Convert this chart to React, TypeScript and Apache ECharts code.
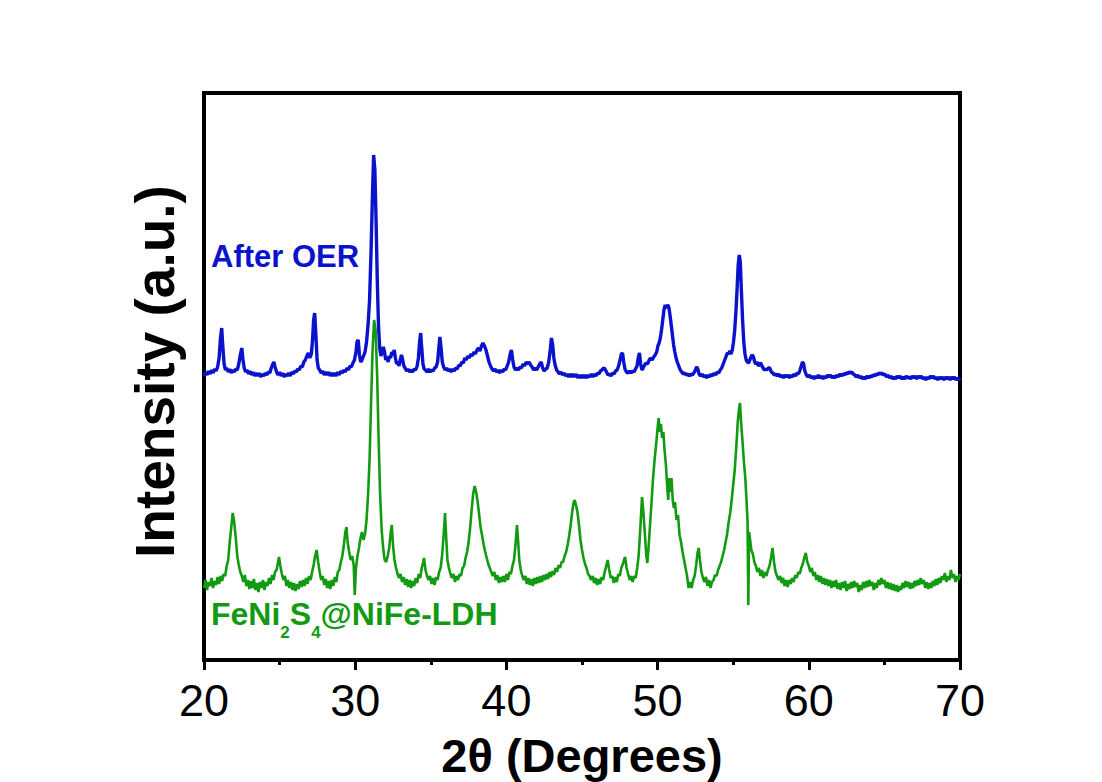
import React, { useEffect, useRef } from "react";
import * as echarts from "echarts";

// [2θ (degrees), intensity (a.u., stacked offset)]
const afterOERPattern: [number, number][] = [
  [20.0, 284], [20.1, 288], [20.2, 285], [20.3, 289], [20.4, 286], [20.5, 290], [20.6, 287], [20.7, 291], [20.8, 289], [20.9, 293],
  [21.0, 302], [21.08, 320], [21.17, 332], [21.25, 312], [21.33, 296], [21.42, 290], [21.5, 292], [21.6, 288], [21.7, 291], [21.8, 287],
  [21.9, 290], [22.0, 288], [22.1, 291], [22.2, 290], [22.3, 296], [22.4, 305], [22.5, 312], [22.58, 300], [22.66, 292], [22.75, 288],
  [22.85, 290], [22.95, 286], [23.05, 289], [23.15, 285], [23.25, 288], [23.35, 284], [23.45, 287], [23.55, 284], [23.65, 287], [23.75, 283],
  [23.85, 286], [23.95, 284], [24.05, 287], [24.15, 285], [24.25, 288], [24.35, 287], [24.45, 292], [24.55, 296], [24.62, 298], [24.7, 293],
  [24.8, 288], [24.9, 285], [25.0, 288], [25.1, 284], [25.2, 287], [25.3, 283], [25.4, 286], [25.5, 284], [25.6, 287], [25.7, 284],
  [25.8, 288], [25.9, 286], [26.0, 289], [26.1, 288], [26.2, 291], [26.3, 290], [26.4, 294], [26.5, 293], [26.6, 298], [26.7, 300],
  [26.8, 304], [26.9, 307], [27.0, 302], [27.1, 306], [27.18, 320], [27.25, 340], [27.32, 347], [27.4, 325], [27.48, 300], [27.56, 292],
  [27.65, 290], [27.75, 287], [27.85, 289], [27.95, 285], [28.05, 288], [28.15, 285], [28.25, 288], [28.35, 284], [28.45, 287], [28.55, 284],
  [28.65, 287], [28.75, 284], [28.85, 288], [28.95, 285], [29.05, 289], [29.15, 287], [29.25, 290], [29.35, 288], [29.45, 292], [29.55, 290],
  [29.65, 294], [29.75, 293], [29.85, 297], [29.95, 300], [30.05, 308], [30.12, 318], [30.2, 320], [30.28, 305], [30.36, 298], [30.45, 300],
  [30.55, 304], [30.65, 308], [30.75, 318], [30.85, 335], [30.95, 360], [31.05, 410], [31.15, 470], [31.22, 505], [31.3, 490], [31.38, 440],
  [31.46, 380], [31.54, 335], [31.62, 312], [31.7, 304], [31.78, 308], [31.86, 313], [31.94, 308], [32.02, 300], [32.1, 303], [32.18, 298],
  [32.26, 304], [32.34, 302], [32.42, 308], [32.5, 305], [32.58, 310], [32.66, 302], [32.74, 296], [32.82, 298], [32.9, 294], [32.98, 300],
  [33.06, 305], [33.14, 300], [33.22, 294], [33.3, 292], [33.4, 289], [33.5, 291], [33.6, 288], [33.7, 290], [33.8, 288], [33.9, 291],
  [34.0, 290], [34.1, 294], [34.18, 302], [34.26, 318], [34.33, 327], [34.4, 312], [34.48, 296], [34.56, 291], [34.65, 290], [34.75, 288],
  [34.85, 291], [34.95, 288], [35.05, 290], [35.15, 289], [35.25, 292], [35.35, 293], [35.45, 298], [35.52, 310], [35.6, 323], [35.68, 312],
  [35.76, 298], [35.85, 293], [35.95, 290], [36.05, 292], [36.15, 289], [36.25, 291], [36.35, 288], [36.45, 291], [36.55, 289], [36.65, 292],
  [36.75, 291], [36.85, 295], [36.95, 294], [37.05, 298], [37.15, 297], [37.25, 302], [37.35, 300], [37.45, 304], [37.55, 302], [37.65, 306],
  [37.75, 304], [37.85, 308], [37.95, 306], [38.05, 310], [38.15, 312], [38.25, 309], [38.35, 314], [38.45, 317], [38.55, 314], [38.65, 310],
  [38.75, 304], [38.85, 298], [38.95, 294], [39.05, 291], [39.15, 289], [39.25, 291], [39.35, 288], [39.45, 290], [39.55, 287], [39.65, 290],
  [39.75, 288], [39.85, 291], [39.95, 290], [40.05, 294], [40.15, 298], [40.25, 306], [40.33, 310], [40.42, 300], [40.5, 293], [40.6, 290],
  [40.7, 292], [40.8, 290], [40.9, 293], [41.0, 292], [41.1, 296], [41.2, 294], [41.3, 298], [41.4, 296], [41.5, 298], [41.6, 295],
  [41.7, 293], [41.8, 290], [41.9, 292], [42.0, 290], [42.1, 293], [42.2, 296], [42.3, 298], [42.4, 292], [42.5, 289], [42.6, 291],
  [42.7, 292], [42.8, 298], [42.9, 310], [42.98, 322], [43.06, 315], [43.14, 302], [43.22, 295], [43.32, 290], [43.42, 288], [43.52, 286],
  [43.62, 288], [43.72, 285], [43.82, 287], [43.92, 284], [44.02, 286], [44.12, 283], [44.22, 286], [44.32, 283], [44.42, 286], [44.52, 283],
  [44.62, 286], [44.72, 282], [44.82, 285], [44.92, 282], [45.02, 285], [45.12, 282], [45.22, 285], [45.32, 282], [45.42, 285], [45.52, 283],
  [45.62, 286], [45.72, 283], [45.82, 286], [45.92, 284], [46.02, 287], [46.12, 286], [46.22, 289], [46.32, 290], [46.42, 292], [46.52, 291],
  [46.62, 288], [46.72, 285], [46.82, 286], [46.92, 284], [47.02, 287], [47.12, 286], [47.22, 289], [47.32, 290], [47.42, 294], [47.52, 300],
  [47.6, 306], [47.68, 307], [47.76, 298], [47.84, 291], [47.94, 288], [48.04, 287], [48.14, 289], [48.24, 287], [48.34, 289], [48.44, 288],
  [48.54, 291], [48.64, 294], [48.72, 302], [48.8, 307], [48.88, 296], [48.96, 290], [49.04, 292], [49.14, 295], [49.24, 297], [49.34, 296],
  [49.44, 300], [49.54, 302], [49.64, 300], [49.74, 303], [49.84, 305], [49.94, 308], [50.02, 314], [50.1, 317], [50.18, 322], [50.26, 330],
  [50.34, 340], [50.42, 350], [50.5, 355], [50.58, 352], [50.66, 355], [50.74, 353], [50.82, 345], [50.9, 335], [50.98, 325], [51.06, 315],
  [51.14, 308], [51.22, 302], [51.3, 298], [51.4, 294], [51.5, 290], [51.6, 288], [51.7, 286], [51.8, 287], [51.9, 285], [52.0, 286],
  [52.1, 284], [52.2, 286], [52.3, 285], [52.4, 287], [52.5, 290], [52.58, 293], [52.66, 291], [52.74, 286], [52.84, 284], [52.94, 286],
  [53.04, 283], [53.14, 285], [53.24, 282], [53.34, 285], [53.44, 283], [53.54, 286], [53.64, 284], [53.74, 287], [53.84, 285], [53.94, 288],
  [54.04, 287], [54.14, 290], [54.24, 292], [54.34, 296], [54.44, 300], [54.54, 304], [54.62, 307], [54.7, 306], [54.78, 309], [54.86, 306],
  [54.94, 310], [55.02, 318], [55.1, 330], [55.18, 348], [55.26, 372], [55.33, 395], [55.4, 405], [55.47, 398], [55.54, 370], [55.62, 340],
  [55.7, 318], [55.78, 306], [55.86, 300], [55.94, 298], [56.02, 297], [56.1, 300], [56.18, 303], [56.26, 305], [56.34, 303], [56.42, 298],
  [56.5, 296], [56.58, 298], [56.66, 294], [56.74, 296], [56.82, 297], [56.9, 294], [56.98, 292], [57.06, 290], [57.14, 291], [57.22, 290],
  [57.32, 292], [57.42, 292], [57.52, 288], [57.62, 287], [57.72, 285], [57.82, 286], [57.92, 284], [58.02, 286], [58.12, 283], [58.22, 285],
  [58.32, 282], [58.42, 285], [58.52, 283], [58.62, 285], [58.72, 282], [58.82, 285], [58.92, 283], [59.02, 286], [59.12, 284], [59.22, 287],
  [59.32, 286], [59.42, 290], [59.5, 294], [59.58, 298], [59.66, 296], [59.74, 289], [59.84, 285], [59.94, 283], [60.04, 285], [60.14, 282],
  [60.24, 284], [60.34, 281], [60.44, 284], [60.54, 282], [60.64, 285], [60.74, 282], [60.84, 284], [60.94, 281], [61.04, 284], [61.14, 282],
  [61.24, 285], [61.34, 283], [61.44, 285], [61.54, 282], [61.64, 284], [61.74, 282], [61.84, 285], [61.94, 283], [62.04, 286], [62.14, 284],
  [62.24, 286], [62.34, 285], [62.44, 287], [62.54, 286], [62.64, 288], [62.74, 287], [62.84, 288], [62.94, 286], [63.04, 285], [63.14, 283],
  [63.24, 285], [63.34, 282], [63.44, 284], [63.54, 281], [63.64, 283], [63.74, 281], [63.84, 284], [63.94, 282], [64.04, 284], [64.14, 283],
  [64.24, 285], [64.34, 284], [64.44, 286], [64.54, 285], [64.64, 287], [64.74, 286], [64.84, 287], [64.94, 285], [65.04, 286], [65.14, 283],
  [65.24, 285], [65.34, 282], [65.44, 284], [65.54, 281], [65.64, 283], [65.74, 281], [65.84, 284], [65.94, 282], [66.04, 284], [66.14, 281],
  [66.24, 283], [66.34, 281], [66.44, 284], [66.54, 282], [66.64, 283], [66.74, 281], [66.84, 284], [66.94, 282], [67.04, 284], [67.14, 281],
  [67.24, 284], [67.34, 282], [67.44, 284], [67.54, 281], [67.64, 283], [67.74, 280], [67.84, 283], [67.94, 281], [68.04, 284], [68.14, 282],
  [68.24, 284], [68.34, 281], [68.44, 283], [68.54, 280], [68.64, 283], [68.74, 281], [68.84, 283], [68.94, 280], [69.04, 283], [69.14, 281],
  [69.24, 283], [69.34, 280], [69.44, 283], [69.54, 281], [69.64, 283], [69.74, 280], [69.84, 282], [69.94, 280], [70.0, 282],
];

const ldhPattern: [number, number][] = [
  [20.0, 72], [20.1, 80], [20.2, 70], [20.3, 78], [20.4, 74], [20.5, 82], [20.6, 72], [20.7, 79], [20.8, 75], [20.9, 83],
  [21.0, 76], [21.1, 84], [21.2, 79], [21.3, 86], [21.4, 84], [21.5, 94], [21.6, 100], [21.7, 118], [21.8, 132], [21.9, 147],
  [22.0, 138], [22.1, 122], [22.2, 104], [22.3, 95], [22.4, 88], [22.5, 84], [22.6, 78], [22.7, 85], [22.8, 74], [22.9, 80],
  [23.0, 71], [23.1, 79], [23.2, 72], [23.3, 81], [23.4, 70], [23.5, 77], [23.6, 68], [23.7, 78], [23.8, 72], [23.9, 80],
  [24.0, 70], [24.1, 78], [24.2, 74], [24.3, 82], [24.4, 76], [24.5, 85], [24.6, 80], [24.7, 88], [24.8, 90], [24.9, 98],
  [24.96, 103], [25.05, 94], [25.15, 86], [25.25, 80], [25.35, 84], [25.45, 74], [25.55, 80], [25.65, 72], [25.75, 78], [25.85, 70],
  [25.95, 77], [26.05, 69], [26.15, 76], [26.25, 71], [26.35, 79], [26.45, 73], [26.55, 80], [26.65, 74], [26.75, 82], [26.85, 76],
  [26.95, 84], [27.05, 80], [27.15, 88], [27.25, 95], [27.35, 104], [27.45, 110], [27.55, 98], [27.65, 88], [27.75, 80], [27.85, 84],
  [27.95, 75], [28.05, 81], [28.15, 72], [28.25, 79], [28.35, 71], [28.45, 80], [28.55, 74], [28.65, 83], [28.75, 78], [28.85, 88],
  [28.95, 90], [29.05, 98], [29.15, 104], [29.25, 115], [29.35, 128], [29.42, 133], [29.5, 118], [29.6, 108], [29.7, 100], [29.8, 104],
  [29.9, 95], [29.97, 65], [30.05, 92], [30.15, 104], [30.25, 112], [30.35, 122], [30.45, 128], [30.55, 120], [30.65, 126], [30.75, 140],
  [30.85, 165], [30.95, 200], [31.05, 258], [31.15, 310], [31.25, 340], [31.35, 330], [31.45, 285], [31.55, 220], [31.65, 165], [31.75, 130],
  [31.85, 112], [31.95, 100], [32.05, 98], [32.15, 104], [32.25, 112], [32.35, 128], [32.42, 135], [32.5, 115], [32.6, 100], [32.7, 92],
  [32.8, 86], [32.9, 82], [33.0, 86], [33.1, 78], [33.2, 83], [33.3, 75], [33.4, 81], [33.5, 73], [33.6, 80], [33.7, 72],
  [33.8, 79], [33.9, 74], [34.0, 82], [34.1, 77], [34.2, 86], [34.3, 82], [34.4, 92], [34.5, 98], [34.55, 102], [34.65, 90],
  [34.75, 84], [34.85, 80], [34.95, 84], [35.05, 76], [35.15, 82], [35.25, 75], [35.35, 83], [35.45, 80], [35.55, 88], [35.65, 92],
  [35.75, 105], [35.85, 125], [35.94, 147], [36.02, 122], [36.1, 100], [36.2, 92], [36.3, 86], [36.4, 82], [36.5, 86], [36.6, 78],
  [36.7, 84], [36.8, 80], [36.9, 86], [37.0, 84], [37.1, 92], [37.2, 94], [37.3, 102], [37.4, 108], [37.5, 118], [37.6, 132],
  [37.7, 150], [37.8, 166], [37.9, 174], [38.0, 168], [38.1, 158], [38.2, 145], [38.3, 132], [38.4, 124], [38.5, 115], [38.6, 108],
  [38.7, 102], [38.8, 96], [38.9, 92], [39.0, 88], [39.1, 84], [39.2, 88], [39.3, 80], [39.4, 85], [39.5, 77], [39.6, 83],
  [39.7, 78], [39.8, 84], [39.9, 78], [40.0, 86], [40.1, 80], [40.2, 88], [40.3, 86], [40.4, 94], [40.5, 100], [40.6, 115],
  [40.7, 135], [40.78, 118], [40.85, 100], [40.95, 90], [41.05, 84], [41.15, 80], [41.25, 84], [41.35, 76], [41.45, 82], [41.55, 75],
  [41.65, 81], [41.75, 74], [41.85, 82], [41.95, 76], [42.05, 83], [42.15, 77], [42.25, 84], [42.35, 78], [42.45, 85], [42.55, 80],
  [42.65, 86], [42.75, 81], [42.85, 88], [42.95, 83], [43.05, 89], [43.15, 85], [43.25, 92], [43.35, 88], [43.45, 95], [43.55, 92],
  [43.65, 98], [43.75, 98], [43.85, 104], [43.95, 108], [44.05, 115], [44.15, 124], [44.25, 135], [44.35, 148], [44.45, 158], [44.52, 160],
  [44.6, 155], [44.7, 148], [44.8, 135], [44.9, 120], [45.0, 110], [45.1, 102], [45.2, 96], [45.3, 92], [45.4, 86], [45.5, 84],
  [45.6, 80], [45.7, 84], [45.8, 77], [45.9, 82], [46.0, 75], [46.1, 81], [46.2, 76], [46.3, 83], [46.4, 80], [46.5, 88],
  [46.6, 94], [46.7, 100], [46.8, 90], [46.9, 82], [47.0, 84], [47.1, 77], [47.2, 83], [47.3, 78], [47.4, 86], [47.5, 84],
  [47.6, 92], [47.7, 96], [47.85, 103], [47.95, 92], [48.05, 86], [48.15, 80], [48.25, 84], [48.35, 78], [48.45, 84], [48.55, 82],
  [48.65, 92], [48.75, 105], [48.85, 130], [48.97, 163], [49.05, 150], [49.15, 128], [49.25, 105], [49.32, 97], [49.4, 112], [49.5, 135],
  [49.6, 158], [49.7, 182], [49.8, 200], [49.9, 215], [50.0, 232], [50.07, 242], [50.15, 228], [50.22, 236], [50.3, 222], [50.38, 228],
  [50.46, 210], [50.55, 195], [50.63, 175], [50.7, 160], [50.78, 182], [50.85, 168], [50.92, 182], [51.0, 160], [51.08, 152], [51.15, 158],
  [51.25, 140], [51.35, 145], [51.45, 125], [51.55, 118], [51.65, 108], [51.75, 100], [51.85, 92], [51.95, 84], [52.05, 72], [52.15, 78],
  [52.25, 72], [52.35, 80], [52.45, 84], [52.55, 95], [52.65, 108], [52.72, 112], [52.8, 100], [52.9, 88], [53.0, 82], [53.1, 78],
  [53.2, 83], [53.3, 74], [53.4, 80], [53.5, 72], [53.6, 78], [53.7, 80], [53.8, 85], [53.9, 84], [54.0, 90], [54.1, 94],
  [54.2, 98], [54.3, 104], [54.4, 110], [54.5, 118], [54.6, 126], [54.7, 138], [54.8, 147], [54.9, 160], [55.0, 175], [55.1, 190],
  [55.2, 212], [55.3, 238], [55.38, 250], [55.45, 257], [55.52, 238], [55.6, 222], [55.7, 200], [55.8, 182], [55.88, 160], [55.95, 138],
  [56.0, 55], [56.05, 128], [56.12, 120], [56.2, 110], [56.3, 106], [56.4, 98], [56.5, 94], [56.6, 88], [56.7, 92], [56.8, 84],
  [56.9, 90], [57.0, 82], [57.1, 88], [57.2, 84], [57.3, 90], [57.4, 94], [57.5, 102], [57.6, 112], [57.7, 98], [57.8, 88],
  [57.9, 84], [58.0, 80], [58.1, 84], [58.2, 77], [58.3, 82], [58.4, 74], [58.5, 80], [58.6, 73], [58.7, 80], [58.8, 76],
  [58.9, 82], [59.0, 78], [59.1, 85], [59.2, 82], [59.3, 88], [59.4, 86], [59.5, 92], [59.6, 96], [59.7, 102], [59.8, 107],
  [59.9, 98], [60.0, 94], [60.1, 88], [60.2, 92], [60.3, 84], [60.4, 88], [60.5, 80], [60.6, 85], [60.7, 78], [60.8, 84],
  [60.9, 76], [61.0, 82], [61.1, 75], [61.2, 81], [61.3, 74], [61.4, 80], [61.5, 72], [61.6, 79], [61.7, 73], [61.8, 80],
  [61.9, 71], [62.0, 77], [62.1, 70], [62.2, 78], [62.3, 72], [62.4, 79], [62.5, 69], [62.6, 76], [62.7, 71], [62.8, 78],
  [62.9, 72], [63.0, 79], [63.1, 73], [63.2, 77], [63.3, 68], [63.4, 75], [63.5, 70], [63.6, 78], [63.7, 72], [63.8, 79],
  [63.9, 73], [64.0, 80], [64.1, 74], [64.2, 78], [64.3, 70], [64.4, 77], [64.5, 72], [64.6, 80], [64.7, 75], [64.8, 82],
  [64.9, 76], [65.0, 80], [65.1, 72], [65.2, 78], [65.3, 71], [65.4, 77], [65.5, 70], [65.6, 76], [65.7, 69], [65.8, 75],
  [65.9, 68], [66.0, 74], [66.1, 70], [66.2, 77], [66.3, 72], [66.4, 79], [66.5, 73], [66.6, 78], [66.7, 71], [66.8, 77],
  [66.9, 72], [67.0, 79], [67.1, 74], [67.2, 80], [67.3, 75], [67.4, 82], [67.5, 76], [67.6, 80], [67.7, 72], [67.8, 78],
  [67.9, 71], [68.0, 77], [68.1, 72], [68.2, 79], [68.3, 74], [68.4, 81], [68.5, 75], [68.6, 82], [68.7, 77], [68.8, 84],
  [68.9, 80], [69.0, 87], [69.1, 78], [69.2, 84], [69.3, 80], [69.4, 90], [69.5, 82], [69.6, 86], [69.7, 78], [69.8, 84],
  [69.9, 80], [70.0, 86],
];

const xTicks = { min: 20, max: 70, interval: 10 };
const seriesNames = ["After OER", "FeNi2S4@NiFe-LDH"];
const seriesColors = ["#0a12cc", "#139a13"];

const FONT = "'Liberation Sans', Arial, sans-serif";

export default function App() {
  const ref = useRef<HTMLDivElement>(null);

  useEffect(() => {
    document.body.style.margin = "0";
    if (!ref.current) return;
    const chart = echarts.init(ref.current, null, { renderer: "svg" });

    chart.setOption({
      animation: false,
      backgroundColor: "#ffffff",
      grid: {
        left: 204,
        top: 93,
        width: 756,
        height: 567,
        show: true,
        borderColor: "#000",
        borderWidth: 4,
        backgroundColor: "transparent",
        outerBoundsMode: "none",
        containLabel: false,
      },
      xAxis: {
        type: "value",
        min: xTicks.min,
        max: xTicks.max,
        interval: xTicks.interval,
        name: "2θ (Degrees)",
        nameLocation: "middle",
        nameGap: 73,
        nameMoveOverlap: false,
        nameTextStyle: { fontFamily: FONT, fontSize: 47, fontWeight: "bold", color: "#000", lineHeight: 44 },
        axisLine: { show: true, lineStyle: { color: "#000", width: 4 } },
        axisTick: { show: true, inside: false, length: 10, lineStyle: { color: "#000", width: 3 } },
        minorTick: { show: true, splitNumber: 2, length: 5, lineStyle: { color: "#000", width: 3 } },
        axisLabel: { fontFamily: FONT, fontSize: 45, color: "#000", margin: 22, lineHeight: 36 },
        splitLine: { show: false },
      },
      yAxis: {
        type: "value",
        min: 0,
        max: 567,
        name: "Intensity (a.u.)",
        nameLocation: "middle",
        nameRotate: 90,
        nameGap: 22,
        nameMoveOverlap: false,
        nameTextStyle: {
          fontFamily: FONT,
          fontSize: 55,
          fontWeight: "bold",
          color: "#000",
          padding: [0, 0, 0, 10],
        },
        axisLine: { show: true, lineStyle: { color: "#000", width: 4 } },
        axisTick: { show: false },
        axisLabel: { show: false },
        splitLine: { show: false },
      },
      series: [
        {
          name: seriesNames[0],
          type: "line",
          data: afterOERPattern,
          showSymbol: false,
          lineStyle: { color: seriesColors[0], width: 3.4 },
          z: 2,
        },
        {
          name: seriesNames[1],
          type: "line",
          data: ldhPattern,
          showSymbol: false,
          lineStyle: { color: seriesColors[1], width: 2.6 },
          z: 3,
        },
      ],
      graphic: [
        {
          type: "text",
          left: 211,
          top: 241,
          style: {
            text: "After OER",
            fill: seriesColors[0],
            font: `bold 31px ${FONT}`,
          },
        },
        {
          type: "text",
          left: 211,
          top: 598,
          style: {
            text: "FeNi{sub|2}S{sub|4}@NiFe-LDH",
            fill: seriesColors[1],
            font: `bold 32px ${FONT}`,
            rich: {
              sub: {
                fontFamily: FONT,
                fontWeight: "bold",
                fontSize: 17,
                lineHeight: 54,
                verticalAlign: "bottom",
                fill: seriesColors[1],
              },
            },
          },
        },
      ],
    });
    return () => chart.dispose();
  }, []);

  return <div ref={ref} style={{ width: 1102, height: 782 }} />;
}
